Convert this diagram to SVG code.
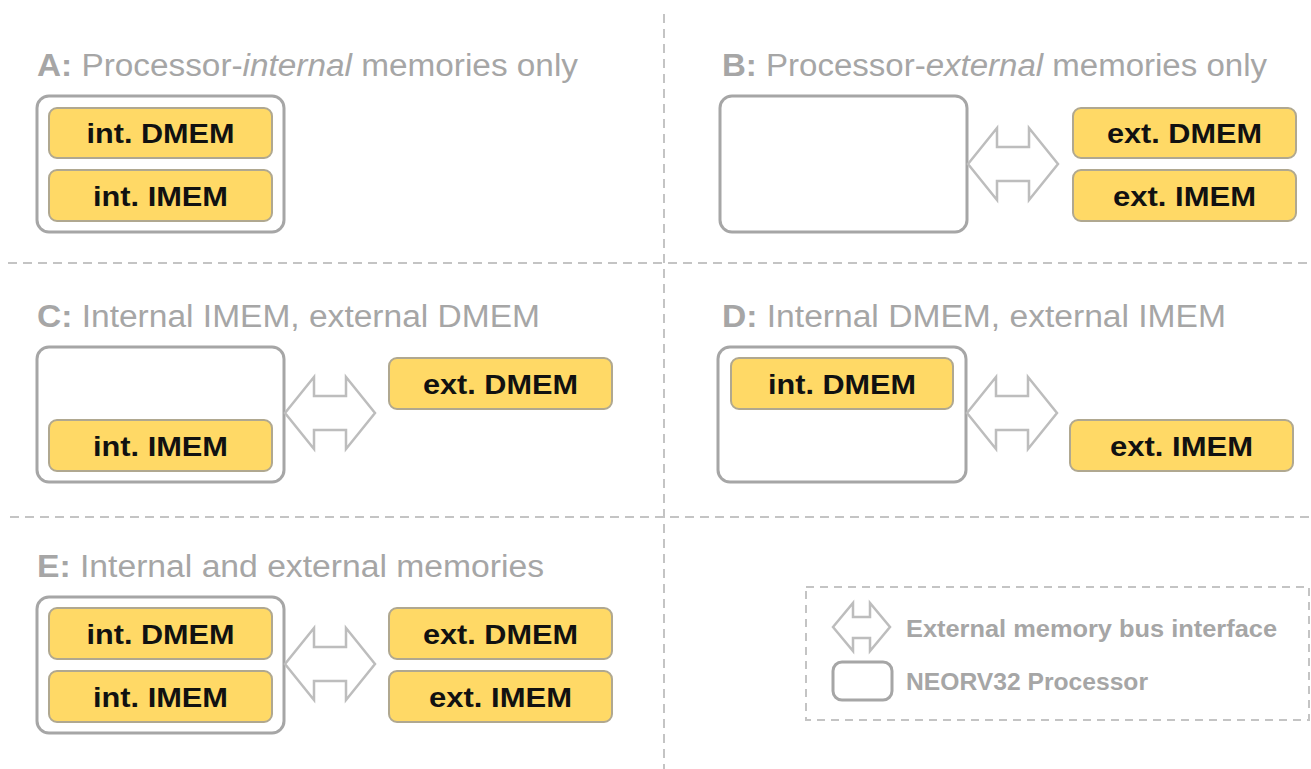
<svg xmlns="http://www.w3.org/2000/svg" xmlns:xlink="http://www.w3.org/1999/xlink" width="1311" height="769" viewBox="0 0 1311 769">
<style>
.div{stroke:#c4c4c4;stroke-width:2;stroke-dasharray:9 6;fill:none}
.title{font-family:"Liberation Sans",Arial,sans-serif;font-size:31px;fill:#a6a6a6}
.b{font-weight:bold}
.i{font-style:italic}
.proc{fill:#ffffff;stroke:#a6a6a6;stroke-width:3}
.mem{fill:#ffd966;stroke:#b0a890;stroke-width:2}
.memt{font-family:"Liberation Sans",Arial,sans-serif;font-weight:bold;font-size:27px;fill:#111111;text-anchor:middle}
.arr{fill:#ffffff;stroke:#bdbdbd;stroke-width:2.5;stroke-linejoin:miter}
.leg{font-family:"Liberation Sans",Arial,sans-serif;font-weight:bold;font-size:23px;fill:#a6a6a6}
</style>
<defs>
<path id="dblarrow" d="M0,0 L29,-36 L29,-17 L61,-17 L61,-36 L90,0 L61,36 L61,17 L29,17 L29,36 Z"/>
</defs>
<rect width="1311" height="769" fill="#ffffff"/>
<g id="dividers">
<line class="div" x1="664" y1="14" x2="664" y2="769"/>
<line class="div" x1="8" y1="263" x2="1311" y2="263"/>
<line class="div" x1="10" y1="517" x2="1311" y2="517"/>
</g>
<g id="titles">
<text class="title" x="37" y="76" textLength="541" lengthAdjust="spacingAndGlyphs"><tspan class="b">A:</tspan> Processor-<tspan class="i">internal</tspan> memories only</text>
<text class="title" x="722" y="76" textLength="545" lengthAdjust="spacingAndGlyphs"><tspan class="b">B:</tspan> Processor-<tspan class="i">external</tspan> memories only</text>
<text class="title" x="37" y="327" textLength="503" lengthAdjust="spacingAndGlyphs"><tspan class="b">C:</tspan> Internal IMEM, external DMEM</text>
<text class="title" x="722" y="327" textLength="504" lengthAdjust="spacingAndGlyphs"><tspan class="b">D:</tspan> Internal DMEM, external IMEM</text>
<text class="title" x="37" y="577" textLength="507" lengthAdjust="spacingAndGlyphs"><tspan class="b">E:</tspan> Internal and external memories</text>
</g>
<g id="procA">
<rect class="proc" x="37" y="96" width="247" height="136" rx="12"/>
<rect class="mem" x="49" y="108" width="223" height="50" rx="8"/>
<text class="memt" x="160.5" y="143" textLength="148" lengthAdjust="spacingAndGlyphs">int. DMEM</text>
<rect class="mem" x="49" y="170" width="223" height="51" rx="8"/>
<text class="memt" x="160.5" y="206" textLength="135" lengthAdjust="spacingAndGlyphs">int. IMEM</text>
</g>
<g id="procB">
<rect class="proc" x="720" y="96" width="247" height="136" rx="12"/>
</g>
<g id="extB">
<rect class="mem" x="1073" y="108" width="223" height="50" rx="8"/>
<text class="memt" x="1184.5" y="143" textLength="155" lengthAdjust="spacingAndGlyphs">ext. DMEM</text>
<rect class="mem" x="1073" y="170" width="223" height="51" rx="8"/>
<text class="memt" x="1184.5" y="206" textLength="143" lengthAdjust="spacingAndGlyphs">ext. IMEM</text>
</g>
<g id="procC">
<rect class="proc" x="37" y="347" width="247" height="135" rx="12"/>
<rect class="mem" x="49" y="420" width="223" height="51" rx="8"/>
<text class="memt" x="160.5" y="456" textLength="135" lengthAdjust="spacingAndGlyphs">int. IMEM</text>
</g>
<g id="extC">
<rect class="mem" x="389" y="358" width="223" height="51" rx="8"/>
<text class="memt" x="500.5" y="394" textLength="155" lengthAdjust="spacingAndGlyphs">ext. DMEM</text>
</g>
<g id="procD">
<rect class="proc" x="718" y="347" width="248" height="135" rx="12"/>
<rect class="mem" x="731" y="358" width="222" height="51" rx="8"/>
<text class="memt" x="842" y="394" textLength="148" lengthAdjust="spacingAndGlyphs">int. DMEM</text>
</g>
<g id="extD">
<rect class="mem" x="1070" y="420" width="223" height="51" rx="8"/>
<text class="memt" x="1181.5" y="456" textLength="143" lengthAdjust="spacingAndGlyphs">ext. IMEM</text>
</g>
<g id="procE">
<rect class="proc" x="37" y="597" width="247" height="136" rx="12"/>
<rect class="mem" x="49" y="608" width="223" height="51" rx="8"/>
<text class="memt" x="160.5" y="644" textLength="148" lengthAdjust="spacingAndGlyphs">int. DMEM</text>
<rect class="mem" x="49" y="671" width="223" height="51" rx="8"/>
<text class="memt" x="160.5" y="707" textLength="135" lengthAdjust="spacingAndGlyphs">int. IMEM</text>
</g>
<g id="extE">
<rect class="mem" x="389" y="608" width="223" height="51" rx="8"/>
<text class="memt" x="500.5" y="644" textLength="155" lengthAdjust="spacingAndGlyphs">ext. DMEM</text>
<rect class="mem" x="389" y="671" width="223" height="51" rx="8"/>
<text class="memt" x="500.5" y="707" textLength="143" lengthAdjust="spacingAndGlyphs">ext. IMEM</text>
</g>
<g id="connectors">
<use xlink:href="#dblarrow" href="#dblarrow" class="arr" transform="translate(968,164)"/>
<use xlink:href="#dblarrow" href="#dblarrow" class="arr" transform="translate(285,413)"/>
<use xlink:href="#dblarrow" href="#dblarrow" class="arr" transform="translate(967,413)"/>
<use xlink:href="#dblarrow" href="#dblarrow" class="arr" transform="translate(285,664)"/>
</g>
<g id="legend">
<rect x="806" y="587" width="503" height="133" fill="none" stroke="#c4c4c4" stroke-width="2" stroke-dasharray="8 6"/>
<path class="arr" d="M833,627 L853,603 L853,617 L870,617 L870,603 L890,627 L870,651 L870,638 L853,638 L853,651 Z"/>
<text class="leg" x="906" y="637" textLength="371" lengthAdjust="spacingAndGlyphs">External memory bus interface</text>
<rect class="proc" x="833" y="662" width="59" height="38" rx="9"/>
<text class="leg" x="906" y="690" textLength="242" lengthAdjust="spacingAndGlyphs">NEORV32 Processor</text>
</g>
</svg>
